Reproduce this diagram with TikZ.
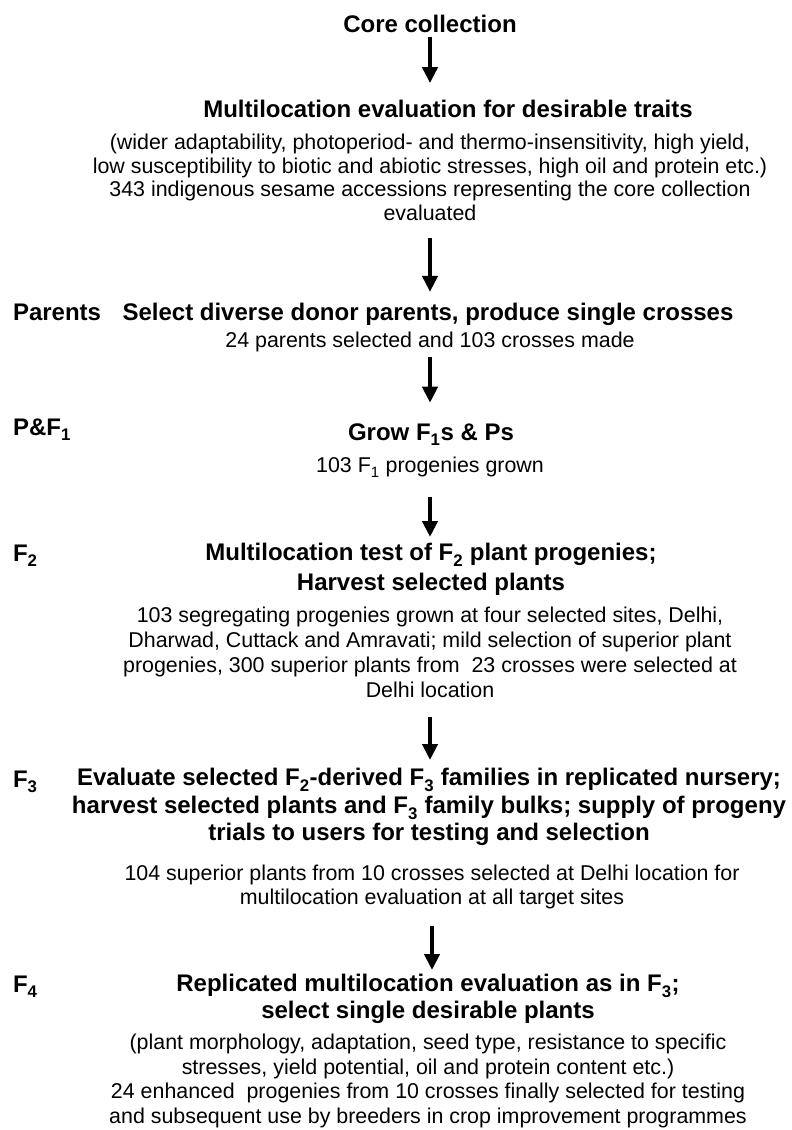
\documentclass[tikz,border=0pt]{standalone}
\usepackage{fontspec}
\setmainfont{Liberation Sans}
\usetikzlibrary{arrows.meta}
\newcommand{\gsub}[1]{\raisebox{-0.09em}{\textsubscript{#1}}}

\begin{document}
\begin{tikzpicture}[x=1pt,y=-1pt,
    every node/.style={inner sep=0pt, outer sep=0pt},
    head/.style={font=\fontsize{24}{26.5}\selectfont\bfseries, align=center},
    note/.style={font=\fontsize{21.4}{24.4}\selectfont, align=center},
    gen/.style={font=\fontsize{24}{26}\selectfont\bfseries, anchor=base west},
    flow/.style={line width=4.5pt, -{Triangle[length=16pt,width=15pt]}}]
  \useasboundingbox (0,0) rectangle (792,1130);
%   generation labels
    \node[gen] (lparents) at (13,320) {Parents};
    \node[gen] (lpf) at (13,435) {P\&F\gsub{1}};
    \node[gen] (lftwo) at (13,561) {F\gsub{2}};
    \node[gen] (lfthree) at (13,787) {F\gsub{3}};
    \node[gen] (lffour) at (13,992) {F\gsub{4}};
%   steps
    \node[head, anchor=base] (core) at (430,32) {Core collection};
    \node[head, anchor=base] (trait) at (448,117) {Multilocation evaluation for desirable traits};
    \node[note, anchor=north, font=\fontsize{21.4}{23.5}\selectfont] (traitnote) at (430,134.4)
        {(wider adaptability, photoperiod- and thermo-insensitivity, high yield,\\
         low susceptibility to biotic and abiotic stresses, high oil and protein etc.)\\
         343 indigenous sesame accessions representing the core collection\\
         evaluated};
    \node[head, anchor=base] (parents) at (428,320) {Select diverse donor parents, produce single crosses};
    \node[note, anchor=base] (parentsnote) at (430,347) {24 parents selected and 103 crosses made};
    \node[head, anchor=base] (grow) at (431,440) {Grow F\gsub{1}s \& Ps};
    \node[note, anchor=base] (grownote) at (430,472) {103 F\gsub{1} progenies grown};
    \node[head, anchor=north, font=\fontsize{24}{30}\selectfont\bfseries] (ftwo) at (431,543.5)
        {Multilocation test of F\gsub{2} plant progenies;\\
         Harvest selected plants};
    \node[note, anchor=north, font=\fontsize{21.4}{25}\selectfont] (ftwonote) at (430,606.7)
        {103 segregating progenies grown at four selected sites, Delhi,\\
         Dharwad, Cuttack and Amravati; mild selection of superior plant\\
         progenies, 300 superior plants from~ 23 crosses were selected at\\
         Delhi location};
    \node[head, anchor=north, font=\fontsize{24}{27.5}\selectfont\bfseries] (fthree) at (429,768.5)
        {Evaluate selected F\gsub{2}-derived F\gsub{3} families in replicated nursery;\\
         harvest selected plants and F\gsub{3} family bulks; supply of progeny\\
         trials to users for testing and selection};
    \node[note, anchor=north, font=\fontsize{21.4}{24}\selectfont] (fthreenote) at (432,864.6)
        {104 superior plants from 10 crosses selected at Delhi location for\\
         multilocation evaluation at all target sites};
    \node[head, anchor=north, font=\fontsize{24}{27}\selectfont\bfseries] (ffour) at (428,974.5)
        {Replicated multilocation evaluation as in F\gsub{3};\\
         select single desirable plants};
    \node[note, anchor=north] (ffournote) at (428,1034.4)
        {(plant morphology, adaptation, seed type, resistance to specific\\
         stresses, yield potential, oil and protein content etc.)\\
         24 enhanced~ progenies from 10 crosses finally selected for testing\\
         and subsequent use by breeders in crop improvement programmes};
%   arrows
    \draw[flow, shorten <=4.7pt, shorten >=16.5pt] (core.south) -- (core.south |- trait.north);
    \draw[flow, shorten <=17.2pt, shorten >=10.7pt] (traitnote.south) -- (traitnote.south |- parents.north);
    \draw[flow, shorten <=5.5pt, shorten >=20.5pt] (parentsnote.south) -- (parentsnote.south |- grow.north);
    \draw[flow, shorten <=19.5pt, shorten >=6.5pt] (grownote.south) -- (grownote.south |- ftwo.north);
    \draw[flow, shorten <=19.7pt, shorten >=8.5pt] (ftwonote.south) -- (ftwonote.south |- fthree.north);
    \draw[flow, shorten <=17pt, shorten >=4.5pt] (fthreenote.south) -- (fthreenote.south |- ffour.north);
\end{tikzpicture}
\end{document}
